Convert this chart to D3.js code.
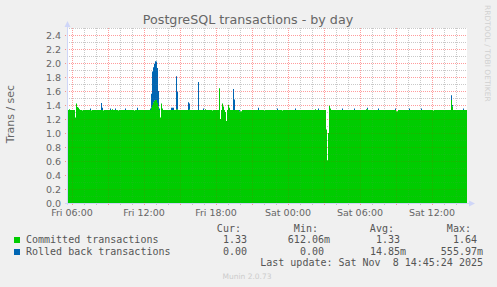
<!DOCTYPE html>
<html><head><meta charset="utf-8">
<script src="https://cdn.jsdelivr.net/npm/d3@7"></script>
<style>
html,body{margin:0;padding:0;background:#F0F0F0;}
svg{display:block;}
text{font-family:"DejaVu Sans",sans-serif;}
.mono{font-family:"DejaVu Sans Mono",monospace;}
</style></head>
<body>
<script>
// ---- data (one value per 5-minute interval, Fri 05:35 -> Sat 14:55) ----
const committed = [
1.33,1.33,1.34,1.33,1.33,1.33,1.33,1.33,1.22,1.42,1.37,1.36,1.34,1.33,1.33,1.32,1.33,1.33,1.33,1.33,
1.33,1.33,1.33,1.33,1.32,1.33,1.33,1.33,1.33,1.33,1.33,1.33,1.33,1.33,1.33,1.33,1.32,1.33,1.33,1.33,
1.33,1.33,1.33,1.33,1.33,1.34,1.33,1.33,1.33,1.33,1.33,1.32,1.33,1.33,1.33,1.33,1.33,1.33,1.33,1.33,
1.33,1.33,1.33,1.33,1.33,1.33,1.33,1.32,1.33,1.33,1.33,1.33,1.33,1.33,1.33,1.33,1.33,1.33,1.33,1.33,
1.33,1.33,1.33,1.33,1.36,1.40,1.44,1.46,1.47,1.47,1.43,1.38,1.33,1.22,1.42,1.35,1.33,1.33,1.33,1.33,
1.33,1.33,1.33,1.33,1.33,1.33,1.33,1.33,1.33,1.34,1.34,1.33,1.33,1.33,1.33,1.33,1.33,1.33,1.33,1.33,
1.33,1.33,1.34,1.33,1.33,1.33,1.33,1.33,1.33,1.33,1.33,1.33,1.33,1.33,1.33,1.33,1.33,1.33,1.34,1.33,
1.33,1.33,1.33,1.33,1.33,1.32,1.33,1.33,1.33,1.33,1.33,1.33,1.64,1.20,1.33,1.42,1.38,1.33,1.30,1.17,
1.33,1.40,1.36,1.33,1.33,1.33,1.33,1.33,1.33,1.33,1.33,1.33,1.31,1.31,1.31,1.33,1.33,1.33,1.33,1.33,
1.33,1.33,1.33,1.33,1.33,1.33,1.33,1.33,1.33,1.33,1.33,1.33,1.33,1.33,1.33,1.33,1.33,1.32,1.33,1.33,
1.33,1.33,1.33,1.33,1.33,1.33,1.33,1.33,1.33,1.33,1.33,1.33,1.33,1.33,1.33,1.32,1.33,1.33,1.33,1.33,
1.33,1.33,1.33,1.33,1.33,1.33,1.33,1.33,1.33,1.33,1.33,1.33,1.33,1.33,1.33,1.33,1.33,1.33,1.33,1.33,
1.33,1.33,1.33,1.33,1.33,1.33,1.33,1.33,1.34,1.33,1.33,1.33,1.33,1.33,1.33,1.33,1.33,1.33,1.33,1.05,
0.612,1.00,1.39,1.35,1.33,1.33,1.33,1.33,1.33,1.33,1.33,1.33,1.33,1.33,1.33,1.33,1.33,1.33,1.33,1.33,
1.33,1.33,1.33,1.33,1.33,1.33,1.33,1.33,1.33,1.33,1.33,1.33,1.33,1.33,1.33,1.33,1.33,1.33,1.33,1.34,
1.34,1.33,1.33,1.33,1.33,1.33,1.33,1.33,1.33,1.33,1.33,1.33,1.33,1.33,1.33,1.33,1.33,1.33,1.33,1.33,
1.33,1.33,1.33,1.33,1.33,1.33,1.33,1.33,1.33,1.31,1.31,1.33,1.33,1.33,1.33,1.33,1.33,1.33,1.33,1.33,
1.33,1.33,1.33,1.33,1.33,1.33,1.33,1.33,1.33,1.33,1.33,1.33,1.33,1.33,1.33,1.33,1.33,1.33,1.33,1.33,
1.33,1.33,1.33,1.33,1.33,1.33,1.32,1.33,1.33,1.33,1.33,1.33,1.33,1.33,1.33,1.33,1.33,1.33,1.33,1.33,
1.33,1.33,1.33,1.33,1.47,1.38,1.33,1.33,1.33,1.33,1.33,1.33,1.33,1.33,1.33,1.33,1.33,1.33,1.33,1.33
];
const rolledBack = [
0,0,0,0,0,0,0,0,0,0,0,0,0,0,0,0,0,0,0,0,
0,0,0,0.02,0,0,0,0,0,0,0,0,0,0,0.10,0.03,0,0,0,0,
0,0,0,0.02,0,0,0,0,0.02,0,0,0,0,0,0,0,0,0,0.02,0,
0,0,0,0,0,0,0,0,0,0,0.03,0,0,0,0,0,0,0,0,0,
0,0,0,0.02,0.20,0.48,0.50,0.53,0.556,0.55,0.50,0.22,0.02,0,0,0,0,0,0,0,
0,0,0,0,0.03,0.03,0.03,0,0,0.47,0.25,0,0,0,0,0,0,0,0,0,
0,0.11,0.08,0,0,0,0,0,0,0,0,0.40,0,0,0,0,0.02,0,0,0,
0,0,0,0,0,0,0,0,0,0,0,0,0,0,0,0,0,0,0,0,
0,0,0,0,0,0,0.30,0.15,0,0,0,0,0.02,0,0,0,0,0,0,0,
0,0,0,0,0,0,0,0,0,0,0,0.03,0,0,0,0,0,0,0,0,
0,0,0,0,0,0,0,0,0,0,0.02,0,0,0,0,0,0,0,0,0,
0,0,0,0,0,0,0,0,0.02,0,0,0,0,0,0,0,0,0,0,0,
0,0,0,0,0,0,0,0,0,0,0,0.02,0,0,0,0,0,0,0,0,
0,0,0,0,0,0,0,0,0,0,0,0,0,0,0,0.02,0,0,0,0,
0,0,0,0,0,0,0,0.02,0,0,0,0,0,0,0,0,0,0,0,0,
0.02,0,0,0,0,0,0,0,0,0,0,0.02,0,0,0,0,0,0,0,0,
0,0,0,0,0,0,0,0,0.02,0,0,0,0,0,0,0,0,0,0,0,
0,0,0.02,0,0,0,0,0,0,0,0,0,0,0,0.02,0,0,0,0,0,
0,0,0,0,0,0,0,0,0,0,0,0,0,0,0,0,0,0,0,0,
0,0,0,0,0.07,0.02,0,0,0,0,0,0,0,0,0,0,0.02,0,0,0
];
const seriesNames = ["Committed transactions", "Rolled back transactions"];
const seriesColors = ["#00CC00", "#0066B3"];
const statHeaders = ["Cur:", "Min:", "Avg:", "Max:"];
const committedStats = [1.33, 0.61206, 1.33, 1.64];
const rolledBackStats = [0.00, 0.00, 0.01485, 0.55597];
const yTickLabels = ["0.0","0.2","0.4","0.6","0.8","1.0","1.2","1.4","1.6","1.8","2.0","2.2","2.4"];
const xTickLabels = ["Fri 06:00","Fri 12:00","Fri 18:00","Sat 00:00","Sat 06:00","Sat 12:00"];
const xTickTimes = [new Date(2025,10,7,6), new Date(2025,10,7,12), new Date(2025,10,7,18),
                    new Date(2025,10,8,0), new Date(2025,10,8,6), new Date(2025,10,8,12)];
const title = "PostgreSQL transactions - by day";
const yLabel = "Trans / sec";
const lastUpdate = "Last update: Sat Nov  8 14:45:24 2025";
const startTime = new Date(2025,10,7,5,35);
const stepMs = 5*60*1000;

// ---- drawing ----
const W = 497, H = 287;
const L = 67, R = 467, T = 28, B = 203;
const svg = d3.select("body").append("svg").attr("width", W).attr("height", H);
svg.append("rect").attr("width", W).attr("height", H).attr("fill", "#F0F0F0");

const endTime = new Date(startTime.getTime() + committed.length*stepMs);
const x = d3.scaleTime().domain([startTime, endTime]).range([L, R]);
const y = d3.scaleLinear().domain([0, 2.5]).range([B, T]);

svg.append("rect").attr("x", L).attr("y", T).attr("width", R-L).attr("height", B-T).attr("fill", "#FFFFFF");

function drawGrid(minorCol, majorCol) {
  const g = svg.append("g");
  d3.range(1, 26).forEach(k => {
    const yy = Math.round(y(k/10)) + 0.5;
    const major = k % 2 === 0;
    g.append("line").attr("x1", major ? L-2 : L).attr("x2", R).attr("y1", yy).attr("y2", yy)
      .attr("stroke", major ? majorCol : minorCol).attr("stroke-dasharray", "1,1");
  });
  x.ticks(d3.timeHour.every(1)).forEach(t => {
    const xx = Math.round(x(t)) + 0.5;
    const major = t.getHours() % 3 === 0;
    g.append("line").attr("x1", xx).attr("x2", xx).attr("y1", T).attr("y2", B + 2)
      .attr("stroke", major ? majorCol : minorCol).attr("stroke-dasharray", "1,1");
  });
}
drawGrid("rgba(128,128,128,0.35)", "rgba(255,0,0,0.3)");

const data = committed.map((c, i) => ({t: new Date(startTime.getTime() + i*stepMs), c: c, r: rolledBack[i]}));
data.push({t: endTime, c: committed[committed.length-1], r: rolledBack[rolledBack.length-1]});

const areaC = d3.area().curve(d3.curveStepAfter).x(d => x(d.t)).y0(y(0)).y1(d => y(d.c));
const areaR = d3.area().curve(d3.curveStepAfter).x(d => x(d.t)).y0(d => y(d.c)).y1(d => y(d.c + d.r));
svg.append("path").datum(data).attr("d", areaC).attr("fill", seriesColors[0]);
svg.append("path").datum(data).attr("d", areaR).attr("fill", seriesColors[1]);

// faint grid overlay on the areas
drawGrid("rgba(128,128,128,0.12)", "rgba(255,0,0,0.12)");

// axes
const axisCol = "#CFD6F8";
svg.append("line").attr("x1", L+0.5).attr("x2", L+0.5).attr("y1", B+2).attr("y2", 24).attr("stroke", axisCol);
svg.append("line").attr("x1", L-2).attr("x2", 471).attr("y1", B+0.5).attr("y2", B+0.5).attr("stroke", axisCol);
svg.append("path").attr("d", `M${L-2.5},27 L${L+0.5},21 L${L+3.5},27 Z`).attr("fill", axisCol);
svg.append("path").attr("d", `M469,${B-2.5} L475,${B+0.5} L469,${B+3.5} Z`).attr("fill", axisCol);

// tick labels
const fontCol = "#666666";
yTickLabels.forEach(lbl => {
  svg.append("text").attr("x", 61).attr("y", y(+lbl) + 3.5).attr("text-anchor", "end")
    .attr("font-size", 9.5).attr("fill", fontCol).text(lbl);
});
xTickLabels.forEach((lbl, i) => {
  svg.append("text").attr("x", x(xTickTimes[i])).attr("y", 216).attr("text-anchor", "middle")
    .attr("font-size", 9.5).attr("fill", fontCol).text(lbl);
});

// title & labels
svg.append("text").attr("x", 248).attr("y", 24).attr("text-anchor", "middle")
  .attr("font-size", 12.7).attr("fill", fontCol).text(title);
svg.append("text").attr("transform", "translate(14,114) rotate(-90)").attr("text-anchor", "middle")
  .attr("font-size", 11).attr("fill", fontCol).text(yLabel);
svg.append("text").attr("transform", "translate(485,5) rotate(90)").attr("text-anchor", "start")
  .attr("font-size", 7.5).attr("fill", "#D0D0D0").text("RRDTOOL / TOBI OETIKER");

// legend
function fmt(v) {
  if (v !== 0 && Math.abs(v) < 1) return {s: (v*1000).toFixed(2) + "m", suf: true};
  return {s: v.toFixed(2), suf: false};
}
const colEnds = [253, 330, 406, 483];
const cw = 6.02;
statHeaders.forEach((h, j) => {
  svg.append("text").attr("class", "mono").attr("x", colEnds[j] - 2*cw).attr("y", 232)
    .attr("text-anchor", "end").attr("font-size", 10).attr("fill", "#555").text(h);
});
[committedStats, rolledBackStats].forEach((stats, k) => {
  const yy = 243 + k*12;
  svg.append("rect").attr("x", 14).attr("y", yy - 6).attr("width", 6).attr("height", 6).attr("fill", seriesColors[k]);
  svg.append("text").attr("class", "mono").attr("x", 26).attr("y", yy).attr("font-size", 10)
    .attr("fill", "#555").text(seriesNames[k]);
  stats.forEach((v, j) => {
    const f = fmt(v);
    svg.append("text").attr("class", "mono").attr("x", colEnds[j] - (f.suf ? 0 : cw)).attr("y", yy)
      .attr("text-anchor", "end").attr("font-size", 10).attr("fill", "#555").text(f.s);
  });
});
svg.append("text").attr("class", "mono").attr("x", 483).attr("y", 266).attr("text-anchor", "end")
  .attr("font-size", 10).attr("fill", "#555").attr("xml:space", "preserve").style("white-space", "pre").text(lastUpdate);
svg.append("text").attr("x", 247).attr("y", 279).attr("text-anchor", "middle")
  .attr("font-size", 7.5).attr("fill", "#CCCCCC").text("Munin 2.0.73");
</script>
</body></html>
